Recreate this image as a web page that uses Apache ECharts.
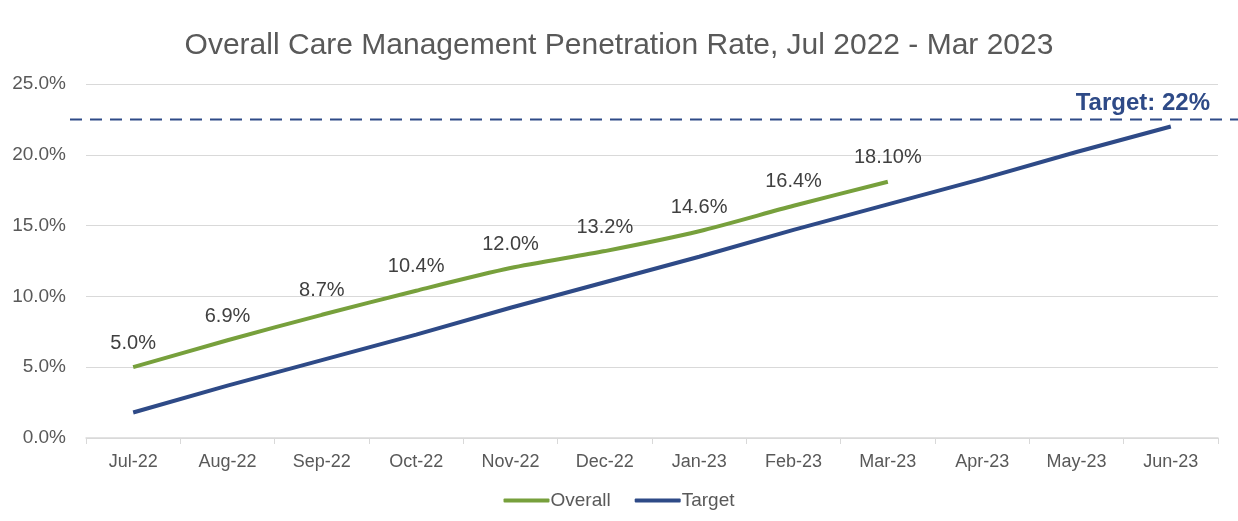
<!DOCTYPE html>
<html><head><meta charset="utf-8">
<script src="https://cdn.jsdelivr.net/npm/echarts@6/dist/echarts.min.js"></script>
<style>html,body{margin:0;padding:0;background:#fff}#c{width:1238px;height:521px}</style>
</head><body><div id="c"></div>
<script>
const categories = ['Jul-22','Aug-22','Sep-22','Oct-22','Nov-22','Dec-22','Jan-23','Feb-23','Mar-23','Apr-23','May-23','Jun-23'];
const overall = [5.0, 6.9, 8.7, 10.4, 12.0, 13.2, 14.6, 16.4, 18.1];
const overallLabels = ['5.0%','6.9%','8.7%','10.4%','12.0%','13.2%','14.6%','16.4%','18.10%'];
const target = [1.8, 3.7, 5.5, 7.3, 9.2, 11.0, 12.8, 14.7, 16.5, 18.3, 20.2, 22.0];
const targetLine = 22.5;
const targetText = 'Target: 22%';

const chart = echarts.init(document.getElementById('c'));
const font = 'Liberation Sans, Arial, sans-serif';
const navy = '#2E4A87';
chart.setOption({
  animation: false,
  textStyle: {fontFamily: font},
  title: {text: 'Overall Care Management Penetration Rate, Jul 2022 - Mar 2023', left: 'center', top: 26,
    textStyle: {fontSize: 30, fontWeight: 'normal', color: '#595959', fontFamily: font}},
  grid: {left: 86, right: 20, top: 84, bottom: 83},
  legend: {bottom: 6, left: 'center', itemWidth: 46, itemHeight: 4, itemGap: 24,
    textStyle: {fontSize: 19, color: '#595959', fontFamily: font, padding: [0,0,0,-4]},
    data: [{name: 'Overall', icon: 'roundRect'}, {name: 'Target', icon: 'roundRect'}]},
  xAxis: {type: 'category', data: categories, boundaryGap: true,
    axisLine: {lineStyle: {color: '#d9d9d9', width: 1.5}},
    axisTick: {show: true, length: 6, lineStyle: {color: '#d9d9d9'}},
    axisLabel: {fontSize: 18, color: '#595959', margin: 15, fontFamily: font}},
  yAxis: {type: 'value', min: 0, max: 25, interval: 5,
    axisLine: {show: false}, axisTick: {show: false},
    splitLine: {lineStyle: {color: '#d9d9d9', width: 1}},
    axisLabel: {fontSize: 19, color: '#595959', margin: 20, fontFamily: font, formatter: v => v.toFixed(1) + '%'}},
  series: [
    {name: 'Overall', type: 'line', data: overall, smooth: 0.25, symbol: 'circle', symbolSize: 0.1, showSymbol: true, z: 3,
      lineStyle: {color: '#77A03C', width: 4}, itemStyle: {color: '#77A03C'},
      label: {show: true, position: 'top', distance: 14, fontSize: 20, color: '#404040', fontFamily: font,
        formatter: p => overallLabels[p.dataIndex]},
      labelLayout: {hideOverlap: false}},
    {name: 'Target', type: 'line', data: target, symbol: 'none', z: 2,
      lineStyle: {color: navy, width: 4}, itemStyle: {color: navy},
      markLine: {silent: true, symbol: 'none',
        lineStyle: {color: 'rgba(0,0,0,0)', width: 2},
        label: {show: true, position: 'insideEndTop', formatter: targetText, fontSize: 24, fontWeight: 'bold',
          color: navy, fontFamily: font, distance: [8, 4]},
        data: [{yAxis: targetLine}]}}
  ]
});
const yPix = chart.convertToPixel({yAxisIndex: 0}, targetLine);
chart.setOption({graphic: [{type: 'line', z: 10, silent: true,
  shape: {x1: 70, y1: yPix, x2: 1238, y2: yPix},
  style: {stroke: navy, lineWidth: 2, lineDash: [12, 8]}}]});
</script></body></html>
